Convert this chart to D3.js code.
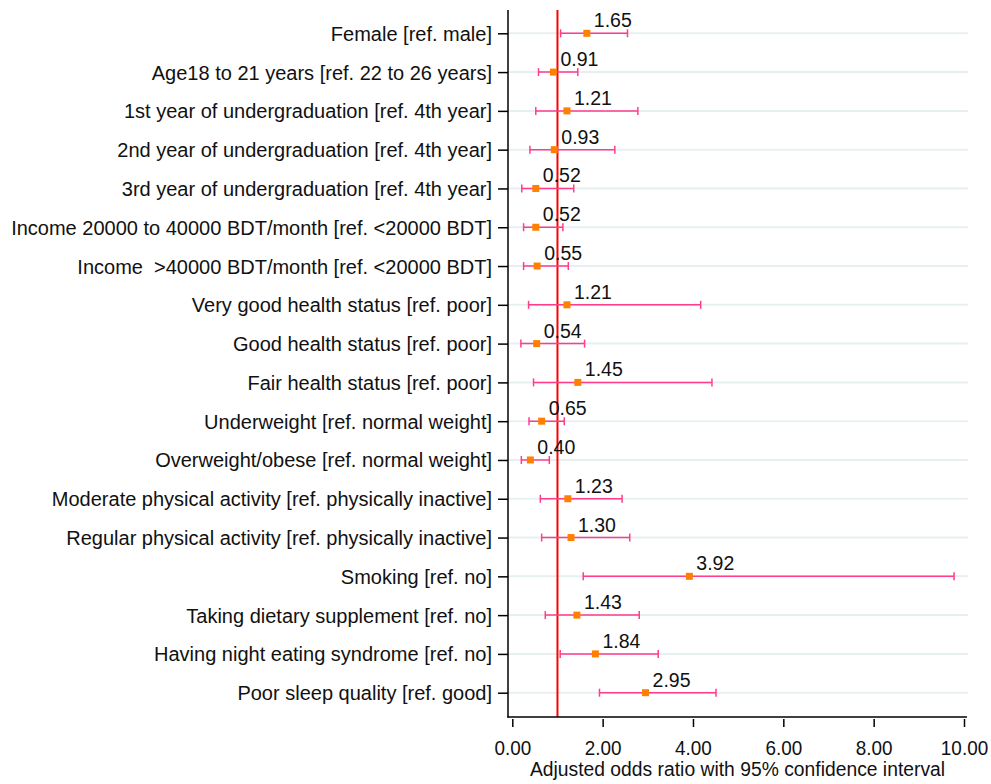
<!DOCTYPE html>
<html>
<head>
<meta charset="utf-8">
<script src="https://cdn.jsdelivr.net/npm/d3@7"></script>
<style>
  body { margin: 0; background: #fff; }
  svg { display: block; font-family: "Liberation Sans", Arial, sans-serif; }
  text { white-space: pre; }
</style>
</head>
<body>
<svg width="991" height="784"></svg>
<script>
// rows, top to bottom
const labels = [
    "Female [ref. male]",
    "Age18 to 21 years [ref. 22 to 26 years]",
    "1st year of undergraduation [ref. 4th year]",
    "2nd year of undergraduation [ref. 4th year]",
    "3rd year of undergraduation [ref. 4th year]",
    "Income 20000 to 40000 BDT/month [ref. <20000 BDT]",
    "Income  >40000 BDT/month [ref. <20000 BDT]",
    "Very good health status [ref. poor]",
    "Good health status [ref. poor]",
    "Fair health status [ref. poor]",
    "Underweight [ref. normal weight]",
    "Overweight/obese [ref. normal weight]",
    "Moderate physical activity [ref. physically inactive]",
    "Regular physical activity [ref. physically inactive]",
    "Smoking [ref. no]",
    "Taking dietary supplement [ref. no]",
    "Having night eating syndrome [ref. no]",
    "Poor sleep quality [ref. good]"
];
const oddsRatio = [1.65, 0.91, 1.21, 0.93, 0.52, 0.52, 0.55, 1.21, 0.54, 1.45, 0.65, 0.40, 1.23, 1.30, 3.92, 1.43, 1.84, 2.95];
const ciLow  = [1.07, 0.58, 0.52, 0.39, 0.21, 0.25, 0.25, 0.36, 0.19, 0.47, 0.37, 0.20, 0.62, 0.65, 1.57, 0.73, 1.06, 1.93];
const ciHigh = [2.55, 1.45, 2.78, 2.27, 1.36, 1.12, 1.24, 4.17, 1.60, 4.42, 1.15, 0.82, 2.43, 2.60, 9.78, 2.81, 3.23, 4.51];
const xTicks = [0, 2, 4, 6, 8, 10];

const svg = d3.select("svg");
const axisLeftX = 508;
const axisBottomY = 717;

const x = d3.scaleLinear().domain([0, 10]).range([512.3, 964]);
const y = d3.scalePoint().domain(labels).range([33.3, 692.7]);

const data = labels.map((l, i) => ({label: l, or: oddsRatio[i], lo: ciLow[i], hi: ciHigh[i]}));

// gridlines
svg.append("g").selectAll("line").data(labels).join("line")
    .attr("x1", axisLeftX).attr("x2", 968)
    .attr("y1", d => y(d)).attr("y2", d => y(d))
    .attr("stroke", "#e8eff1").attr("stroke-width", 2);

// reference line at 1
svg.append("line")
    .attr("x1", x(1)).attr("x2", x(1))
    .attr("y1", 10).attr("y2", axisBottomY)
    .attr("stroke", "#ff0000").attr("stroke-width", 2);

// y axis
svg.append("line")
    .attr("x1", axisLeftX).attr("x2", axisLeftX)
    .attr("y1", 10).attr("y2", axisBottomY + 0.5)
    .attr("stroke", "#000").attr("stroke-width", 1.5);
const yAxis = svg.append("g").attr("transform", `translate(${axisLeftX},0)`)
    .call(d3.axisLeft(y).tickSize(10).tickPadding(6));
yAxis.select(".domain").remove();
yAxis.selectAll(".tick line").attr("stroke", "#000").attr("stroke-width", 1.5);
yAxis.selectAll(".tick text")
    .attr("font-family", "Liberation Sans, Arial, sans-serif")
    .attr("font-size", 20).attr("fill", "#111").attr("dy", "0.35em");

// x axis
svg.append("line")
    .attr("x1", axisLeftX - 0.75).attr("x2", 967)
    .attr("y1", axisBottomY).attr("y2", axisBottomY)
    .attr("stroke", "#000").attr("stroke-width", 1.5);
const xAxis = svg.append("g").attr("transform", `translate(0,${axisBottomY + 2})`)
    .call(d3.axisBottom(x).tickValues(xTicks).tickFormat(d3.format(".2f")).tickSize(8).tickPadding(0));
xAxis.select(".domain").remove();
xAxis.selectAll(".tick line").attr("stroke", "#000").attr("stroke-width", 1.5);
xAxis.selectAll(".tick text")
    .attr("font-family", "Liberation Sans, Arial, sans-serif")
    .attr("font-size", 21).attr("fill", "#111")
    .attr("y", 0).attr("dy", 0)
    .attr("transform", "translate(0,36) scale(0.9,1)");

svg.append("text")
    .attr("transform", `translate(${(522 + 953) / 2},776) scale(0.92,1)`)
    .attr("text-anchor", "middle")
    .attr("font-size", 21).attr("fill", "#111")
    .text("Adjusted odds ratio with 95% confidence interval");

// confidence intervals
const ci = svg.append("g").attr("stroke", "#ff3d8b").attr("stroke-width", 1.5);
ci.selectAll(".bar").data(data).join("line").attr("class", "bar")
    .attr("x1", d => x(d.lo)).attr("x2", d => x(d.hi))
    .attr("y1", d => y(d.label)).attr("y2", d => y(d.label));
ci.selectAll(".capL").data(data).join("line").attr("class", "capL")
    .attr("x1", d => x(d.lo)).attr("x2", d => x(d.lo))
    .attr("y1", d => y(d.label) - 4).attr("y2", d => y(d.label) + 4);
ci.selectAll(".capH").data(data).join("line").attr("class", "capH")
    .attr("x1", d => x(d.hi)).attr("x2", d => x(d.hi))
    .attr("y1", d => y(d.label) - 4).attr("y2", d => y(d.label) + 4);

// point estimates
const sq = 7;
svg.append("g").selectAll("rect").data(data).join("rect")
    .attr("x", d => x(d.or) - sq / 2).attr("y", d => y(d.label) - sq / 2)
    .attr("width", sq).attr("height", sq)
    .attr("fill", "#ff8000");

// value labels
svg.append("g").selectAll("text").data(data).join("text")
    .attr("x", d => x(d.or) + 7).attr("y", d => y(d.label) - 6)
    .attr("font-size", 19.5).attr("fill", "#111")
    .text(d => d3.format(".2f")(d.or));
</script>
</body>
</html>
